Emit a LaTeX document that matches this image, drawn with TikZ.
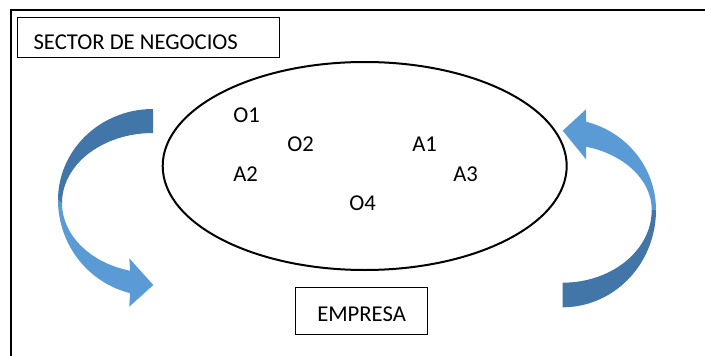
\documentclass[tikz,border=0pt]{standalone}
\usepackage{fontspec}
\setmainfont{Carlito}
\usetikzlibrary{shapes.geometric}
\definecolor{arrdark}{RGB}{66,117,168}
\definecolor{arrlight}{RGB}{91,155,213}
\begin{document}
\begin{tikzpicture}[x=0.75pt,y=-0.75pt,
  txt/.style={font=\fontsize{17}{20}\selectfont},
  lbl/.style={txt, inner sep=0pt, anchor=base west},
  boxnode/.style={txt, draw=black, line width=0.9pt, inner ysep=0pt, anchor=north west}]
\useasboundingbox (0,0) rectangle (705,356);
% outer frame
\draw[line width=1.5pt] (11,356) -- (11,10) -- (705,10);
% title box
\node[boxnode, inner xsep=12.2pt,
      text height=24.2pt, text depth=5.8pt] (sector) at (16.7,17) {\makebox[172.3pt][l]{SECTOR DE NEGOCIOS}};
% ellipse
\node[draw=black, line width=1.5pt, ellipse, inner sep=0pt, minimum width=404*0.75pt, minimum height=208*0.75pt] (emp) at (364.7,166) {};
% labels
\node[lbl] (o1) at (233,122.3) {O1};
\node[lbl] (o2) at (287,151.7) {O2};
\node[lbl] (a1) at (412,151.7) {A1};
\node[lbl] (a2) at (233,181.7) {A2};
\node[lbl] (a3) at (453,181.7) {A3};
\node[lbl] (o4) at (349,210.7) {O4};
% EMPRESA box
\node[boxnode, minimum width=99pt, text height=25.3pt, text depth=10pt] (empresa) at (295,287) {EMPRESA};
% left curved arrow
\fill[arrlight] plot[domain=180:104, samples=40, variable=\t] ({153+95*cos(\t)},{200+96*sin(\t)})
  -- (129.3,306.7) -- (153.3,285) -- (129.3,258.3)
  -- plot[domain=104.6:180, samples=40, variable=\t] ({153+91*cos(\t)},{203+70*sin(\t)}) -- cycle;
\fill[arrdark] plot[domain=270:180, samples=40, variable=\t] ({153+95*cos(\t)},{200+91*sin(\t)})
  -- plot[domain=180:270, samples=40, variable=\t] ({153+91*cos(\t)},{203+70*sin(\t)}) -- cycle;
% right curved arrow
\fill[arrdark] plot[domain=0:90, samples=40, variable=\t] ({562.7+93.3*cos(\t)},{210+97.3*sin(\t)})
  -- plot[domain=90:0, samples=40, variable=\t] ({562.7+89*cos(\t)},{210+72.7*sin(\t)}) -- cycle;
\fill[arrlight] plot[domain=-75.5:0, samples=40, variable=\t] ({562.7+93.3*cos(\t)},{210+91.2*sin(\t)})
  -- plot[domain=0:-74.8, samples=40, variable=\t] ({562.7+89*cos(\t)},{210+65.6*sin(\t)})
  -- (586,159.3) -- (562.7,130.7) -- (586,109.3) -- cycle;
\end{tikzpicture}
\end{document}
